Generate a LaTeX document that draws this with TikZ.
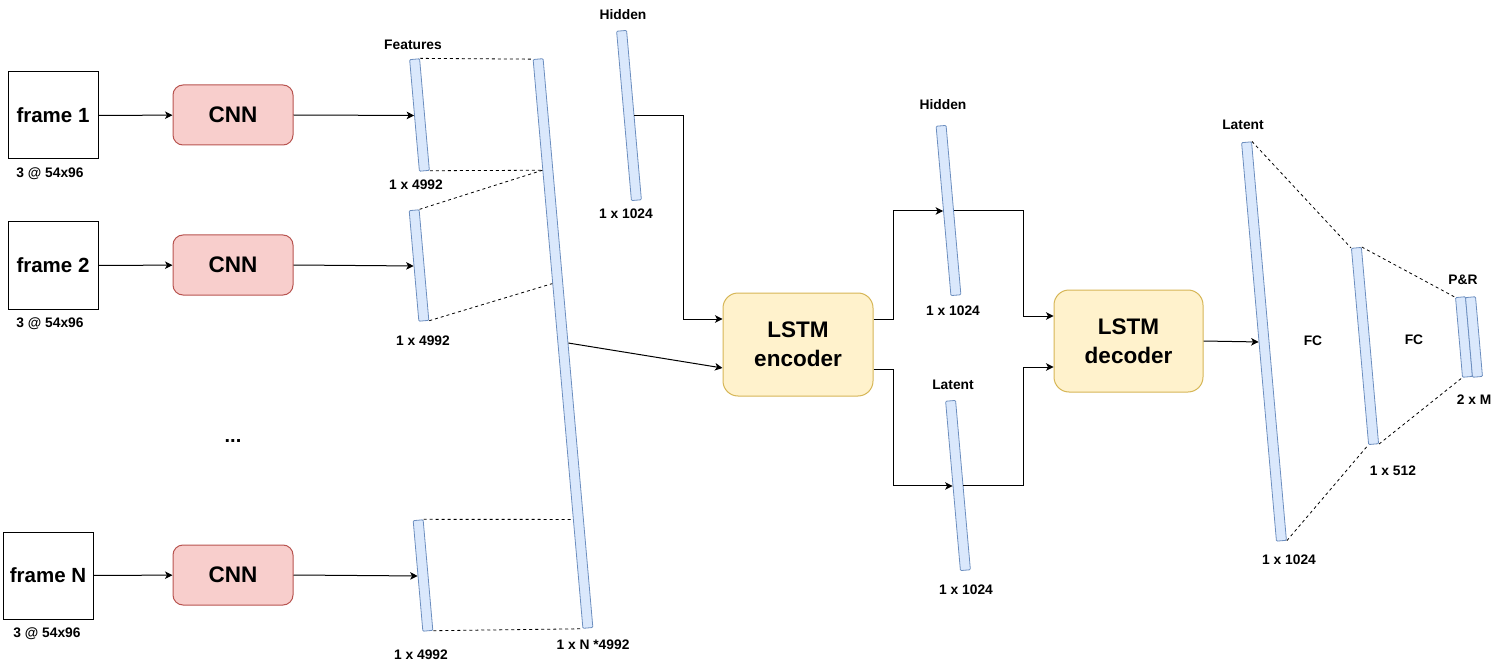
\documentclass[tikz,border=0pt]{standalone}
\usepackage{fontspec}
\setmainfont{Liberation Sans}
\usetikzlibrary{calc, arrows.meta}

\definecolor{barfill}{HTML}{DAE8FC}
\definecolor{barline}{HTML}{6C8EBF}
\definecolor{cnnfill}{HTML}{F8CECC}
\definecolor{cnnline}{HTML}{B85450}
\definecolor{lstmfill}{HTML}{FFF2CC}
\definecolor{lstmline}{HTML}{D6B656}

\begin{document}
\begin{tikzpicture}[x=1pt, y=-1pt, line width=1pt,
    framebox/.style={draw, minimum width=90pt, minimum height=87pt, inner sep=0pt, font=\bfseries\fontsize{20.5}{24}\selectfont},
    cnnbox/.style={draw=cnnline, fill=cnnfill, rounded corners=10pt, minimum width=120pt, minimum height=60pt, font=\bfseries\fontsize{22.5}{27}\selectfont},
    lstmbox/.style={draw=lstmline, fill=lstmfill, rounded corners=15pt, minimum width=150pt, minimum height=103pt, align=center, font=\bfseries\fontsize{22.5}{29}\selectfont},
    vecbar/.style={draw=barline, fill=barfill, line width=0.8pt, rounded corners=1pt, minimum width=10pt, inner sep=0pt, rotate=5},
    lbl/.style={font=\bfseries\fontsize{13.8}{16}\selectfont},
    arr/.style={-{Stealth[length=7.5pt, width=7.5pt, inset=2pt]}},
    dashlink/.style={dashed, line width=0.8pt}]
    \useasboundingbox (0,0) rectangle (1505,671);

    % Input frames
    \node[framebox] (fr1) at (53,115.5) {frame 1};
    \node[framebox] (fr2) at (53,265.5) {frame 2};
    \node[framebox] (frN) at (48,575.5) {frame N};
    \node[lbl] at (50,174) {3 @ 54x96};
    \node[lbl] at (50,324) {3 @ 54x96};
    \node[lbl] at (47,634) {3 @ 54x96};
    \node[font=\bfseries\fontsize{20}{24}\selectfont] (dots) at (233,441) {...};

    % CNN blocks
    \node[cnnbox] (cnn1) at (233,115) {CNN};
    \node[cnnbox] (cnn2) at (233,265) {CNN};
    \node[cnnbox] (cnnN) at (233,575) {CNN};

    % Feature vectors and the concatenated vector
    \node[vecbar, minimum height=112pt] (f1) at (419.5,115) {};
    \node[vecbar, minimum height=111pt] (f2) at (419,265.5) {};
    \node[vecbar, minimum height=111pt] (fN) at (423,575.5) {};
    \node[vecbar, minimum height=571pt] (cat) at (563,343.5) {};
    \node[lbl] at (413,45) {Features};
    \node[lbl] at (416,185) {1 x 4992};
    \node[lbl] at (423,341) {1 x 4992};
    \node[lbl] at (421,655) {1 x 4992};
    \node[lbl] at (593,645) {1 x N *4992};

    % Points on the concatenated vector
    \coordinate (c1) at ($(cat.north west)!0.195!(cat.south west)$);
    \coordinate (c2) at ($(cat.north west)!0.394!(cat.south west)$);
    \coordinate (c3) at ($(cat.north west)!0.808!(cat.south west)$);

    % Dashed links (concatenation)
    \draw[dashlink] (f1.north east) -- (cat.north west);
    \draw[dashlink] (f1.south east) -- (c1);
    \draw[dashlink] (f2.north east) -- (c1);
    \draw[dashlink] (f2.south east) -- (c2);
    \draw[dashlink] (fN.north east) -- (c3);
    \draw[dashlink] (fN.south east) -- (cat.south west);

    % Arrows frame -> CNN -> feature
    \draw[arr] (fr1) -- (cnn1);
    \draw[arr] (fr2) -- (cnn2);
    \draw[arr] (frN) -- (cnnN);
    \draw[arr] (cnn1.east) -- (f1.west);
    \draw[arr] (cnn2.east) -- (f2.west);
    \draw[arr] (cnnN.east) -- (fN.west);

    % Initial hidden state
    \node[vecbar, minimum height=170pt] (hid1) at (629,115.5) {};
    \node[lbl] at (623,15) {Hidden};
    \node[lbl] at (626,214) {1 x 1024};

    % LSTM encoder and decoder
    \node[lstmbox] (enc) at (798,344.5) {LSTM\\encoder};
    \node[lstmbox, minimum width=149pt, minimum height=102pt] (dec) at (1128.5,341) {LSTM\\decoder};

    % Encoder ports
    \coordinate (encin1) at ($(enc.west)+(0,-25.5)$);
    \coordinate (encin2) at ($(enc.west)+(0,23.5)$);
    \coordinate (encout1) at ($(enc.east)+(0,-25.5)$);
    \coordinate (encout2) at ($(enc.east)+(0,24.5)$);
    \coordinate (decin1) at ($(dec.west)+(0,-25)$);
    \coordinate (decin2) at ($(dec.west)+(0,26)$);

    \draw[arr] (hid1.east) -- ++(49,0) |- (encin1);
    \draw[arr] (cat.east) -- (encin2);

    % Encoder outputs
    \node[vecbar, minimum height=170pt] (hid2) at (948.5,210.5) {};
    \node[vecbar, minimum height=170pt] (lat1) at (958,485.5) {};
    \node[lbl] at (943,105) {Hidden};
    \node[lbl] at (953,311) {1 x 1024};
    \node[lbl] at (953,385) {Latent};
    \node[lbl] at (966,590) {1 x 1024};

    \draw[arr] (encout1) -- ++(20,0) |- (hid2.west);
    \draw[arr] (encout2) -- ++(20,0) |- (lat1.west);
    \draw[arr] (hid2.east) -- ++(70,0) |- (decin1);
    \draw[arr] (lat1.east) -- ++(60,0) |- (decin2);

    % Fully connected head
    \node[vecbar, minimum height=400pt] (lat2) at (1264,341.5) {};
    \node[vecbar, minimum height=197pt] (fc) at (1365,346) {};
    \node[vecbar, minimum height=80pt] (pra) at (1464,337) {};
    \node[vecbar, minimum height=80pt] (prb) at (1474,337) {};
    \node[lbl] at (1243,125) {Latent};
    \node[lbl] at (1289,560) {1 x 1024};
    \node[lbl] at (1393,471) {1 x 512};
    \node[lbl] at (1463,280) {P\&R};
    \node[lbl] at (1474,400) {2 x M};
    \node[lbl] at (1313,341) {FC};
    \node[lbl] at (1414,340) {FC};

    \draw[arr] (dec.east) -- (lat2.west);
    \draw[dashlink] (lat2.north east) -- (fc.north west);
    \draw[dashlink] (lat2.south east) -- (fc.south west);
    \draw[dashlink] (fc.north east) -- (pra.north west);
    \draw[dashlink] (fc.south east) -- (pra.south west);

\end{tikzpicture}
\end{document}
